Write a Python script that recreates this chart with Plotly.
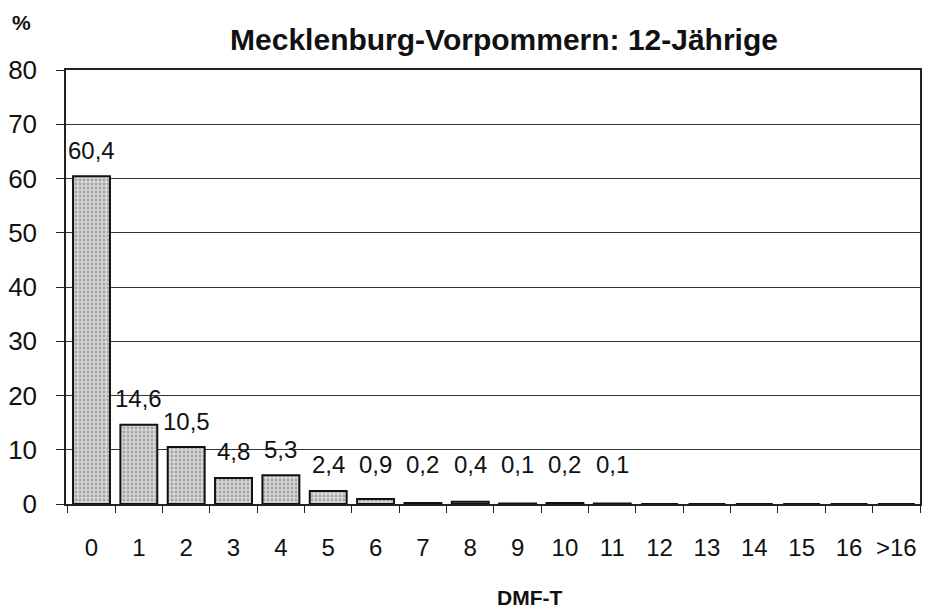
import plotly.graph_objects as go

categories = ["0", "1", "2", "3", "4", "5", "6", "7", "8", "9", "10", "11",
              "12", "13", "14", "15", "16", ">16"]
values = [60.4, 14.6, 10.5, 4.8, 5.3, 2.4, 0.9, 0.2, 0.4, 0.1, 0.2, 0.1,
          0, 0, 0, 0, 0, 0]
labels = ["60,4", "14,6", "10,5", "4,8", "5,3", "2,4", "0,9", "0,2", "0,4",
          "0,1", "0,2", "0,1", "", "", "", "", "", ""]
y_ticks = [0, 10, 20, 30, 40, 50, 60, 70, 80]

FONT = "Liberation Sans, Arial, sans-serif"

fig = go.Figure()
fig.add_trace(go.Bar(
    x=categories, y=values,
    marker=dict(
        color="#cfcfcf",
        line=dict(color="#111111", width=2),
        pattern=dict(shape=".", fgcolor="#707070", bgcolor="#d8d8d8",
                     size=4, solidity=0.4),
    ),
    hoverinfo="x+y",
))

for c, v, t in zip(categories, values, labels):
    if t:
        fig.add_annotation(x=c, y=max(v, 2.4), text=t, showarrow=False,
                           yshift=26, font=dict(family=FONT, size=24, color="#111"))

fig.add_annotation(xref="paper", yref="paper", x=-0.052, y=1.11, text="<b>%</b>",
                   showarrow=False, xanchor="center", yanchor="middle",
                   font=dict(family=FONT, size=21, color="#111"))

fig.add_annotation(xref="paper", yref="paper", x=0.543, y=-0.215, text="<b>DMF-T</b>",
                   showarrow=False, xanchor="center", yanchor="middle",
                   font=dict(family=FONT, size=21, color="#111"))

fig.update_layout(
    width=951, height=609,
    margin=dict(l=66, r=31, t=70, b=105, autoexpand=False),
    paper_bgcolor="white", plot_bgcolor="white",
    bargap=0.22,
    showlegend=False,
    title=dict(text="<b>Mecklenburg-Vorpommern: 12-Jährige</b>",
               x=0.53, xanchor="center", y=0.935, yanchor="middle",
               font=dict(family=FONT, size=30, color="#111")),
    font=dict(family=FONT, color="#111"),
)
fig.update_xaxes(
    type="category", showline=True, linecolor="#222", linewidth=1.5, mirror=True,
    ticks="outside", tickson="boundaries", ticklen=7, tickcolor="#222",
    tickfont=dict(size=24), tickangle=0, ticklabelstandoff=21, showgrid=False,
    automargin=False,
)
fig.update_yaxes(
    range=[0, 80], tickvals=y_ticks, showline=True, linecolor="#222", linewidth=1.5,
    mirror=True, ticks="outside", ticklen=8, tickcolor="#222",
    tickfont=dict(size=26), ticklabelstandoff=14, showgrid=True,
    gridcolor="#333", gridwidth=1.2, zeroline=False, automargin=False,
)

fig.write_html("out.html", config={"displayModeBar": False},
               post_script="document.body.style.margin='0';document.body.style.padding='0';")
